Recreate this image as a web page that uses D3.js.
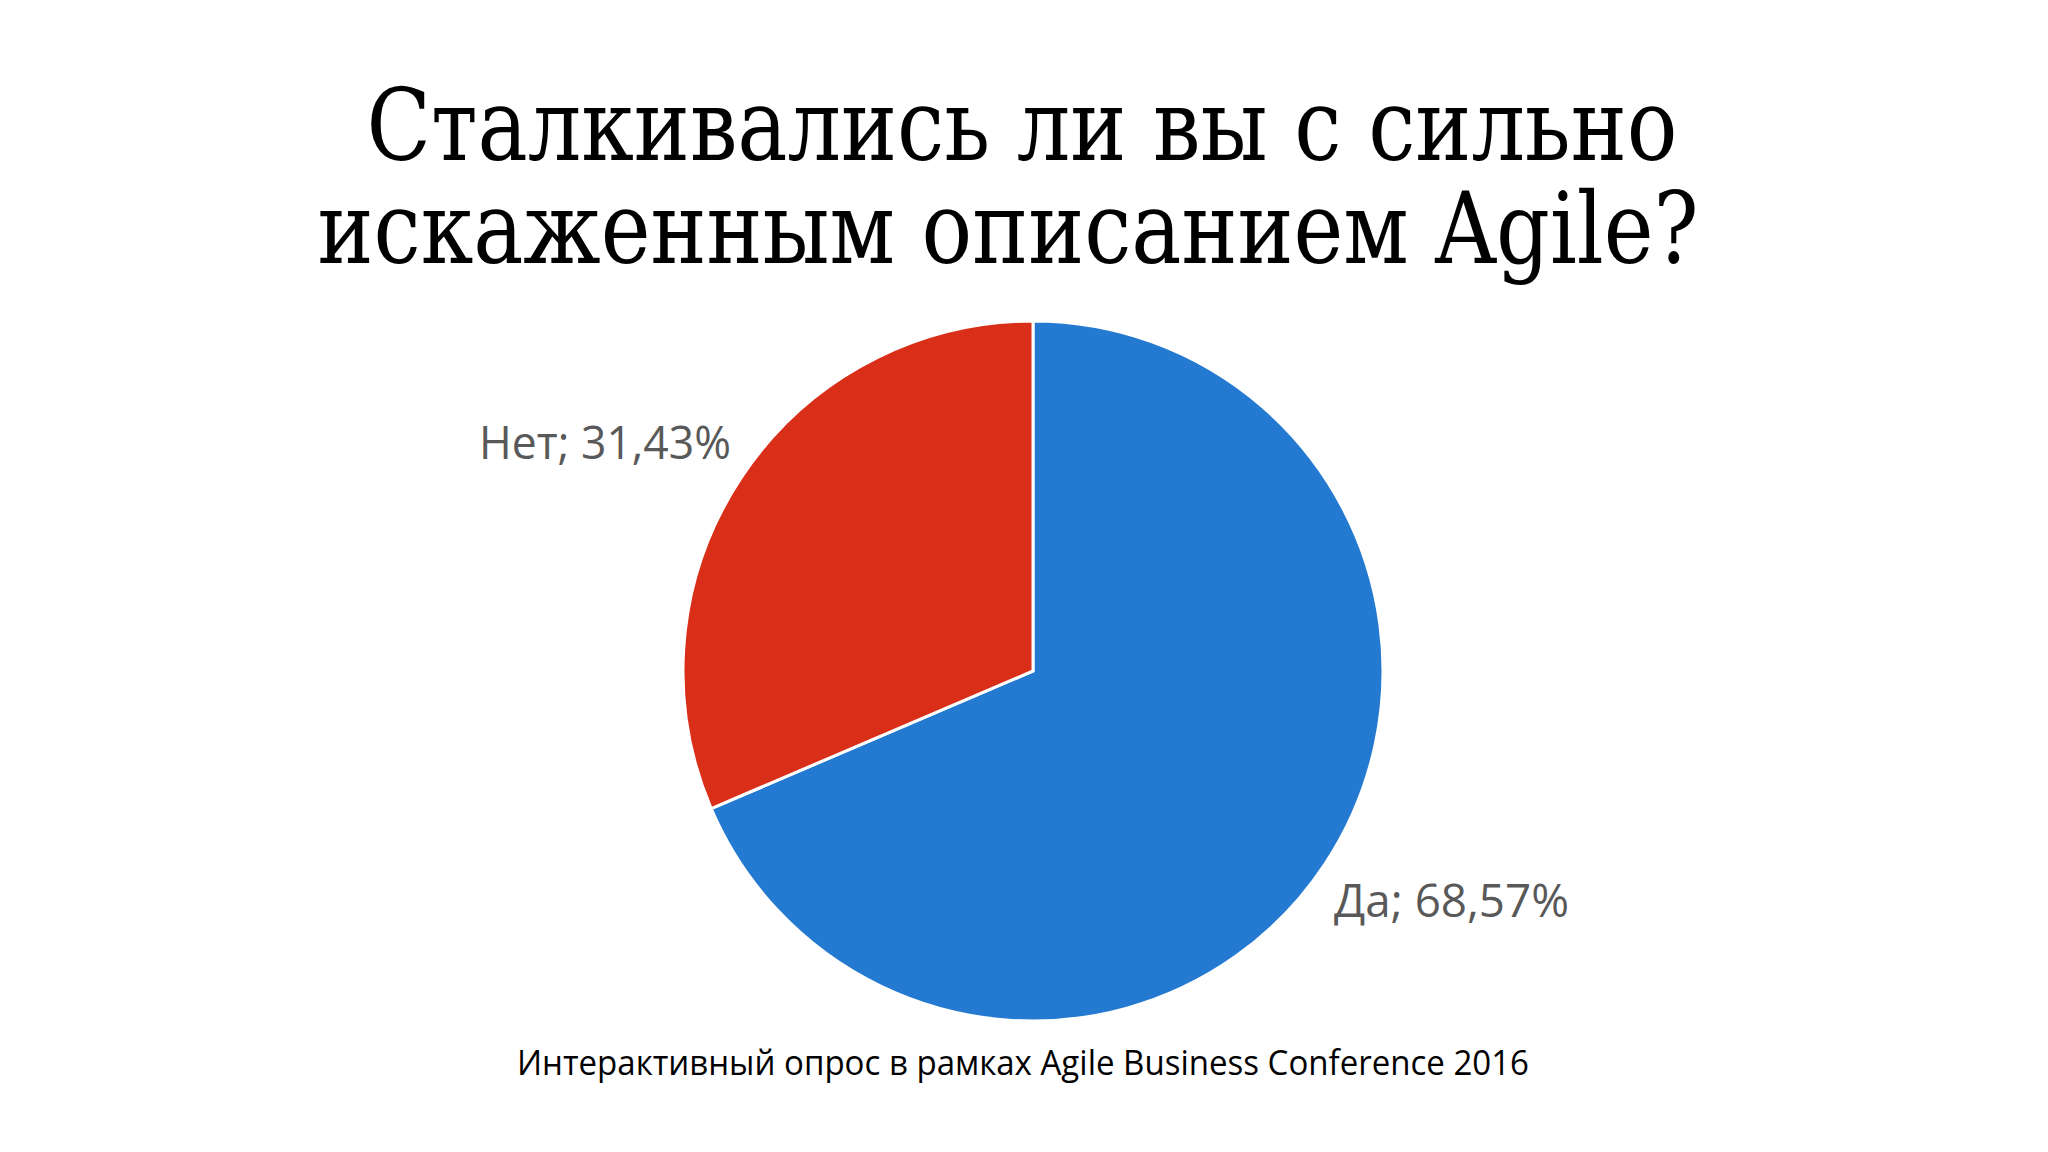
<!DOCTYPE html>
<html><head><meta charset="utf-8">
<script src="https://cdn.jsdelivr.net/npm/d3@7"></script>
<style>html,body{margin:0;padding:0;background:#fff;}</style>
</head><body>
<script>
const titleLines = ["Сталкивались ли вы с сильно", "искаженным описанием Agile?"];
const categories = ["Да", "Нет"];
const values = [68.57, 31.43];
const labels = ["Да; 68,57%", "Нет; 31,43%"];
const colors = ["#2479d0", "#d92e18"];
const footer = "Интерактивный опрос в рамках Agile Business Conference 2016";

const W = 2048, H = 1152;
const svg = d3.select("body").append("svg").attr("width", W).attr("height", H);
svg.append("rect").attr("width", W).attr("height", H).attr("fill", "#fff");

// title
const titleSpec = [{y: 160, x: 1022, w: 1311}, {y: 263, x: 1008, w: 1381}];
titleLines.forEach((t, i) => {
  svg.append("text").attr("x", titleSpec[i].x).attr("y", titleSpec[i].y)
    .attr("text-anchor", "middle")
    .attr("font-family", "'DejaVu Serif Condensed', 'DejaVu Serif', serif")
    .attr("font-stretch", "condensed")
    .attr("font-size", 99).attr("fill", "#000")
    .attr("textLength", titleSpec[i].w).attr("lengthAdjust", "spacingAndGlyphs")
    .text(t);
});

// pie
const cx = 1033, cy = 671, R = 350;
const pie = d3.pie().sort(null).value(d => d)(values);
const arc = d3.arc().innerRadius(0).outerRadius(R);
const g = svg.append("g").attr("transform", `translate(${cx},${cy})`);
g.selectAll("path").data(pie).join("path")
  .attr("d", arc).attr("fill", (d, i) => colors[i])
  .attr("stroke", "#fff").attr("stroke-width", 3).attr("stroke-linejoin", "miter");

// labels
const labelPos = [{dx: 301, dy: 246, w: 235, anchor: "start"}, {dx: -302, dy: -212, w: 252, anchor: "end"}];
g.selectAll("text.lbl").data(pie).join("text").attr("class", "lbl")
  .attr("x", (d, i) => labelPos[i].dx).attr("y", (d, i) => labelPos[i].dy)
  .attr("text-anchor", (d, i) => labelPos[i].anchor)
  .attr("font-family", "'Open Sans', sans-serif").attr("font-size", 46)
  .attr("fill", "#595959")
  .attr("textLength", (d, i) => labelPos[i].w).attr("lengthAdjust", "spacingAndGlyphs")
  .text((d, i) => labels[i]);

// footer
svg.append("text").attr("x", 1023).attr("y", 1075).attr("text-anchor", "middle")
  .attr("font-family", "'Open Sans', sans-serif").attr("font-size", 34).attr("fill", "#000")
  .attr("textLength", 1012).attr("lengthAdjust", "spacingAndGlyphs")
  .text(footer);
</script>
</body></html>
